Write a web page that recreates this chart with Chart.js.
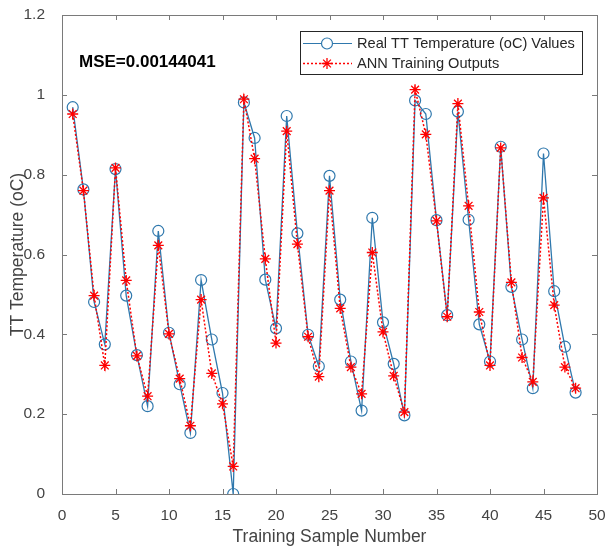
<!DOCTYPE html>
<html lang="en">
<head>
<meta charset="utf-8">
<title>TT Temperature - ANN training</title>
<script src="https://cdn.jsdelivr.net/npm/chart.js@4.4.0/dist/chart.umd.min.js"></script>
<style>
  html, body { margin: 0; padding: 0; background: #fff; }
  #wrap { width: 609px; height: 549px; }
</style>
</head>
<body>
<div id="wrap"><canvas id="chart" width="609" height="549"></canvas></div>
<script>
// sample numbers 1..48
var samples = [];
for (var i = 1; i <= 48; i++) samples.push(i);

// real values (circles)
var realValues = [
  0.969, 0.763, 0.481, 0.375, 0.814, 0.497, 0.348, 0.220, 0.659, 0.404,
  0.275, 0.153, 0.536, 0.387, 0.253, 0.000, 0.981, 0.892, 0.537, 0.415,
  0.947, 0.653, 0.399, 0.320, 0.797, 0.487, 0.332, 0.209, 0.692, 0.430,
  0.326, 0.197, 0.986, 0.952, 0.686, 0.448, 0.958, 0.687, 0.425, 0.332,
  0.870, 0.519, 0.387, 0.265, 0.853, 0.508, 0.369, 0.254
];

// ANN outputs (stars)
var annValues = [
  0.952, 0.760, 0.497, 0.322, 0.817, 0.535, 0.346, 0.245, 0.623, 0.401,
  0.289, 0.171, 0.487, 0.302, 0.226, 0.069, 0.989, 0.840, 0.589, 0.378,
  0.909, 0.626, 0.394, 0.294, 0.760, 0.465, 0.318, 0.251, 0.605, 0.406,
  0.296, 0.205, 1.013, 0.901, 0.684, 0.444, 0.978, 0.722, 0.456, 0.322,
  0.867, 0.530, 0.342, 0.281, 0.742, 0.473, 0.318, 0.265
];

var xTicks = [0, 5, 10, 15, 20, 25, 30, 35, 40, 45, 50];
var yTicks = [0, 0.2, 0.4, 0.6, 0.8, 1, 1.2];

var seriesNames = ['Real TT Temperature (oC) Values', 'ANN Training Outputs'];
var mseText = 'MSE=0.00144041';

var blue = '#2f78ad';
var red = '#ff0000';
var axisCol = '#7a7a7a';
var textCol = '#444444';
var fontFam = '"Liberation Sans", Arial, Helvetica, sans-serif';

function toPoints(vals) {
  return vals.map(function (v, i) { return { x: samples[i], y: v }; });
}

// box, inward ticks, MSE label and legend (matlab look)
var matlabBox = {
  id: 'matlabBox',
  afterDraw: function (chart) {
    var ctx = chart.ctx;
    var a = chart.chartArea;
    var xs = chart.scales.x, ys = chart.scales.y;
    ctx.save();
    ctx.strokeStyle = axisCol;
    ctx.lineWidth = 1;
    ctx.strokeRect(Math.round(a.left) + 0.5, Math.round(a.top) + 0.5,
      Math.round(a.right - a.left), Math.round(a.bottom - a.top));
    ctx.beginPath();
    xTicks.forEach(function (t) {
      var px = Math.round(xs.getPixelForValue(t)) + 0.5;
      ctx.moveTo(px, a.bottom); ctx.lineTo(px, a.bottom - 5);
      ctx.moveTo(px, a.top); ctx.lineTo(px, a.top + 5);
    });
    yTicks.forEach(function (t) {
      var py = Math.round(ys.getPixelForValue(t)) + 0.5;
      ctx.moveTo(a.left, py); ctx.lineTo(a.left + 5, py);
      ctx.moveTo(a.right, py); ctx.lineTo(a.right - 5, py);
    });
    ctx.stroke();

    // MSE text
    ctx.fillStyle = '#000';
    ctx.font = 'bold 17px ' + fontFam;
    ctx.textBaseline = 'middle';
    ctx.textAlign = 'left';
    ctx.fillText(mseText, 79, 62);

    // legend
    var lx = 300, ly = 31, lw = 282, lh = 43;
    ctx.fillStyle = '#fff';
    ctx.fillRect(lx, ly, lw, lh);
    ctx.strokeStyle = '#262626';
    ctx.strokeRect(lx + 0.5, ly + 0.5, lw, lh);
    var rows = [ly + 12.5, ly + 32.5];
    // row 1
    ctx.strokeStyle = blue;
    ctx.lineWidth = 1.2;
    ctx.setLineDash([]);
    ctx.beginPath(); ctx.moveTo(303, rows[0]); ctx.lineTo(352, rows[0]); ctx.stroke();
    ctx.beginPath(); ctx.arc(327, rows[0], 5.5, 0, Math.PI * 2); ctx.fillStyle = '#fff'; ctx.fill(); ctx.stroke();
    // row 2
    ctx.strokeStyle = red;
    ctx.lineWidth = 1.5;
    ctx.setLineDash([2, 2]);
    ctx.beginPath(); ctx.moveTo(303, rows[1]); ctx.lineTo(352, rows[1]); ctx.stroke();
    ctx.setLineDash([]);
    ctx.lineWidth = 1.3;
    var r = 5.5, cx = 327, cy = rows[1];
    ctx.beginPath();
    ctx.moveTo(cx - r, cy); ctx.lineTo(cx + r, cy);
    ctx.moveTo(cx, cy - r); ctx.lineTo(cx, cy + r);
    var d = r * 0.707;
    ctx.moveTo(cx - d, cy - d); ctx.lineTo(cx + d, cy + d);
    ctx.moveTo(cx - d, cy + d); ctx.lineTo(cx + d, cy - d);
    ctx.stroke();
    ctx.fillStyle = '#262626';
    ctx.font = '14.6px ' + fontFam;
    ctx.fillText(seriesNames[0], 357, rows[0]);
    ctx.fillText(seriesNames[1], 357, rows[1]);
    ctx.restore();
  }
};

var ctx = document.getElementById('chart').getContext('2d');
new Chart(ctx, {
  type: 'line',
  data: {
    datasets: [{
      label: seriesNames[0],
      data: toPoints(realValues),
      borderColor: blue,
      borderWidth: 1.3,
      pointStyle: 'circle',
      pointRadius: 5.5,
      pointBorderColor: blue,
      pointBackgroundColor: 'rgba(0,0,0,0)',
      pointBorderWidth: 1.2,
      tension: 0,
      order: 2
    }, {
      label: seriesNames[1],
      data: toPoints(annValues),
      borderColor: red,
      borderWidth: 1.5,
      borderDash: [2, 2],
      pointStyle: 'star',
      pointRadius: 5.5,
      pointBorderColor: red,
      pointBorderWidth: 1.3,
      tension: 0,
      order: 1
    }]
  },
  options: {
    responsive: false,
    animation: false,
    layout: { padding: { top: 15, right: 12, left: 0, bottom: 0 } },
    plugins: { legend: { display: false }, tooltip: { enabled: false } },
    scales: {
      x: {
        type: 'linear', min: 0, max: 50,
        grid: { display: false },
        border: { display: false },
        afterBuildTicks: function (s) { s.ticks = xTicks.map(function (v) { return { value: v }; }); },
        ticks: { color: textCol, font: { family: fontFam, size: 15.5 }, padding: 4, maxRotation: 0 },
        title: { display: true, text: 'Training Sample Number', color: textCol, font: { family: fontFam, size: 17.5 }, padding: { top: 2, bottom: 1 } },
        afterFit: function (s) { s.height = 55; s.paddingLeft = 0; s.paddingRight = 0; }
      },
      y: {
        type: 'linear', min: 0, max: 1.2,
        grid: { display: false },
        border: { display: false },
        afterBuildTicks: function (s) { s.ticks = yTicks.map(function (v) { return { value: v }; }); },
        ticks: {
          color: textCol, font: { family: fontFam, size: 15.5 }, padding: 9,
          callback: function (v) { return String(Math.round(v * 10) / 10); }
        },
        title: { display: true, text: 'TT Temperature (oC)', color: textCol, font: { family: fontFam, size: 17.5 }, padding: { top: 8, bottom: 0 } },
        afterFit: function (s) { s.width = 62; s.paddingTop = 0; s.paddingBottom = 0; }
      }
    }
  },
  plugins: [matlabBox]
});
</script>
</body>
</html>
